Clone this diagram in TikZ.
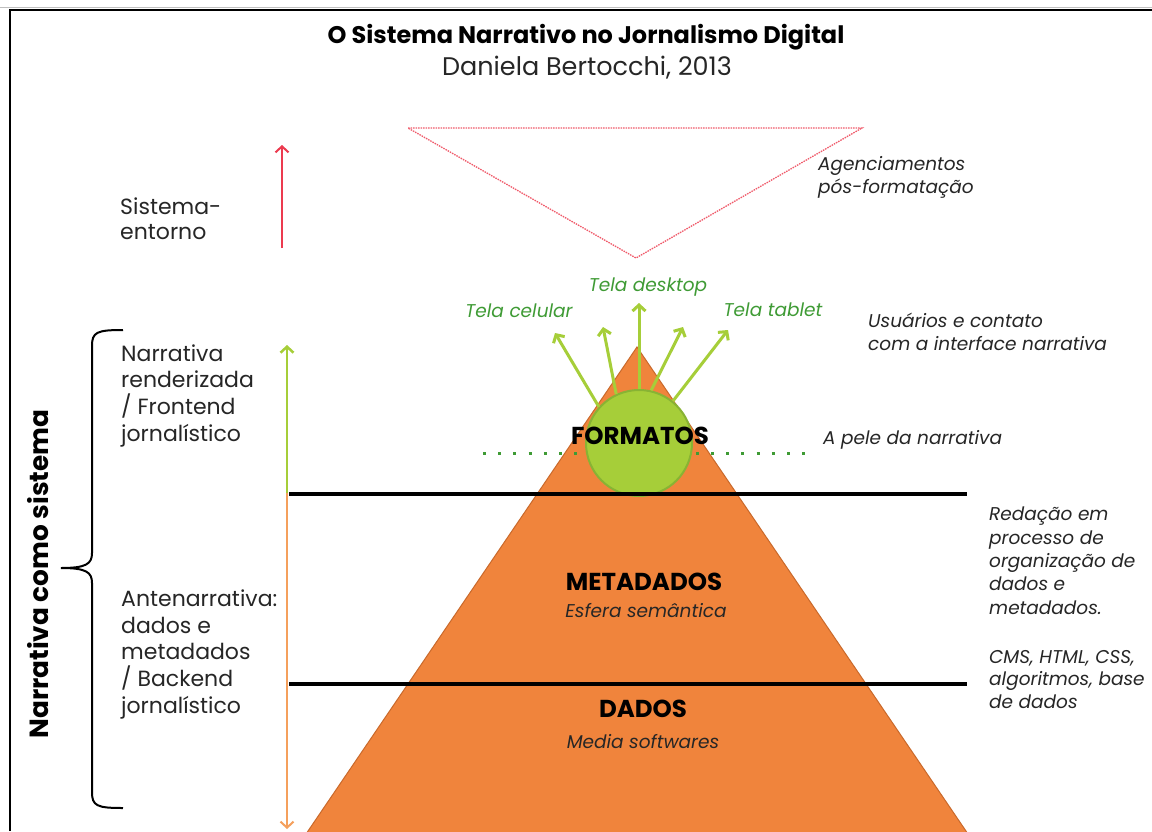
\documentclass[tikz,border=0pt]{standalone}
\usepackage{fontspec}
\setmainfont{Poppins}
\usetikzlibrary{arrows.meta}

\definecolor{pyrfill}{HTML}{F0843C}
\definecolor{pyredge}{HTML}{C9692B}
\definecolor{lgreen}{HTML}{A6CE39}
\definecolor{lgreenedge}{HTML}{88B334}
\definecolor{dgreen}{HTML}{3F9B35}
\definecolor{redarrow}{HTML}{EC3A4F}
\definecolor{reddash}{HTML}{F05A6A}
\definecolor{orarrow}{HTML}{F5A05C}
\definecolor{ink}{HTML}{262626}

% multi-line nodes are anchored at the baseline of their last line
\tikzset{
  plain/.style={inner sep=0pt, text=ink},
  sidetext/.style={plain, align=left, anchor=base west, font=\fontsize{22}{26.6}\selectfont},
  notetext/.style={plain, align=left, anchor=base west, font=\fontsize{18.5}{23}\selectfont\itshape},
  greenlabel/.style={inner sep=0pt, text=dgreen, anchor=base, font=\fontsize{18.5}{22}\selectfont\itshape},
  layertitle/.style={inner sep=0pt, text=black, font=\fontsize{24.5}{28}\selectfont\bfseries},
  layersub/.style={plain, anchor=base, font=\fontsize{18.5}{22}\selectfont\itshape},
  barb/.style={-{Straight Barb[length=6pt,width=13pt]}},
  ray/.style={lgreen, line width=3pt, barb},
  divider/.style={black, line width=4pt}
}

\begin{document}
\begin{tikzpicture}[x=1pt,y=-1pt]
\useasboundingbox (0,0) rectangle (1152,831);
\fill[white] (0,0) rectangle (1152,831);

% frame
\draw[black!25, line width=1pt] (0,7.5) -- (1152,7.5);
\draw[black, line width=2pt] (10,831) -- (10,10) -- (1152,10);

% title
\node[inner sep=0pt, anchor=base, font=\fontsize{24}{28}\selectfont\bfseries] (title) at (586,43) {O Sistema Narrativo no Jornalismo Digital};
\node[plain, anchor=base, font=\fontsize{25.5}{28}\selectfont] (author) at (587,75) {Daniela Bertocchi, 2013};

% post-formatting funnel
\draw[reddash, line width=1.3pt, dash pattern=on 1.5pt off 1pt] (408,128) -- (862,128) -- (636,258) -- cycle;
\node[notetext, font=\fontsize{18.5}{22.5}\selectfont\itshape] (agenc) at (818,193) {Agenciamentos\\pós-formatação};

% environment arrow
\coordinate (envlow) at (282,248);
\coordinate (envhigh) at (282,145);
\draw[redarrow, line width=2pt, barb] (envlow) -- (envhigh);
\node[sidetext, font=\fontsize{22}{25}\selectfont] (entorno) at (120,239) {Sistema-\\entorno};

% pyramid
\filldraw[fill=pyrfill, draw=pyredge, line width=1pt] (637,347) -- (968,834) -- (306,834) -- cycle;

% skin of the narrative
\draw[dgreen, line width=3pt, dash pattern=on 3pt off 12.2pt] (483,453) -- (810,453);

% formats circle
\node[circle, minimum size=106pt, inner sep=0pt, fill=lgreen, draw=lgreenedge, line width=2pt] (fmt) at (639,443) {};
\node[layertitle] (formatos) at (640,436) {FORMATOS};

% screens
\coordinate (t1) at (555,333);
\coordinate (t2) at (603,327);
\coordinate (t3) at (639,303);
\coordinate (t4) at (683,327);
\coordinate (t5) at (728,330);
\draw[ray] (fmt.138) -- (t1);
\draw[ray] (fmt.115) -- (t2);
\draw[ray] (fmt.90) -- (t3);
\draw[ray] (fmt.77) -- (t4);
\draw[ray] (fmt.51) -- (t5);
\node[greenlabel] (desk) at (648,291) {Tela desktop};
\node[greenlabel] (cel) at (519,317) {Tela celular};
\node[greenlabel] (tab) at (773,316) {Tela tablet};

% layer dividers
\coordinate (d1l) at (289,494);
\coordinate (d1r) at (967,494);
\coordinate (d2l) at (289,684);
\coordinate (d2r) at (967,684);
\draw[divider] (d1l) -- (d1r);
\draw[divider] (d2l) -- (d2r);

% layer labels
\node[layertitle] (meta) at (644,582) {METADADOS};
\node[layersub] (esfera) at (646,617) {Esfera semântica};
\node[layertitle] (dados) at (643,709) {DADOS};
\node[layersub] (media) at (643,748) {Media softwares};

% front / back arrows
\coordinate (split) at (287,493);
\coordinate (fronttop) at (287,345);
\coordinate (backbot) at (287,829);
\draw[lgreen, line width=2.5pt, barb] (split) -- (fronttop);
\draw[orarrow, line width=2pt, barb] (split) -- (backbot);

% left-hand descriptions
\node[sidetext] (front) at (121,441) {Narrativa\\renderizada\\/ Frontend\\jornalístico};
\node[sidetext] (back) at (121,713) {Antenarrativa:\\dados e\\metadados\\/ Backend\\jornalístico};

% brace
\draw[black, line width=2pt] (123,330) .. controls (97,330) and (92,332) .. (92,346) -- (92,553)
  .. controls (92,564) and (86,568) .. (61,568) .. controls (86,568) and (92,572) .. (92,583)
  -- (92,792) .. controls (92,806) and (97,808) .. (123,808);
\node[inner sep=0pt, rotate=90, font=\fontsize{26.3}{28}\selectfont\bfseries] (sistema) at (38,574) {Narrativa como sistema};

% right-hand notes
\node[notetext] (usuarios) at (868,350) {Usuários e contato\\com a interface narrativa};
\node[notetext] (pele) at (823,444) {A pele da narrativa};
\node[notetext, font=\fontsize{18.5}{23.3}\selectfont\itshape] (redacao) at (989,614) {Redação em\\processo de\\organização de\\dados e\\metadados.};
\node[notetext, font=\fontsize{18.5}{22.5}\selectfont\itshape] (cms) at (989,708) {CMS, HTML, CSS,\\algoritmos, base\\de dados};
\end{tikzpicture}
\end{document}
